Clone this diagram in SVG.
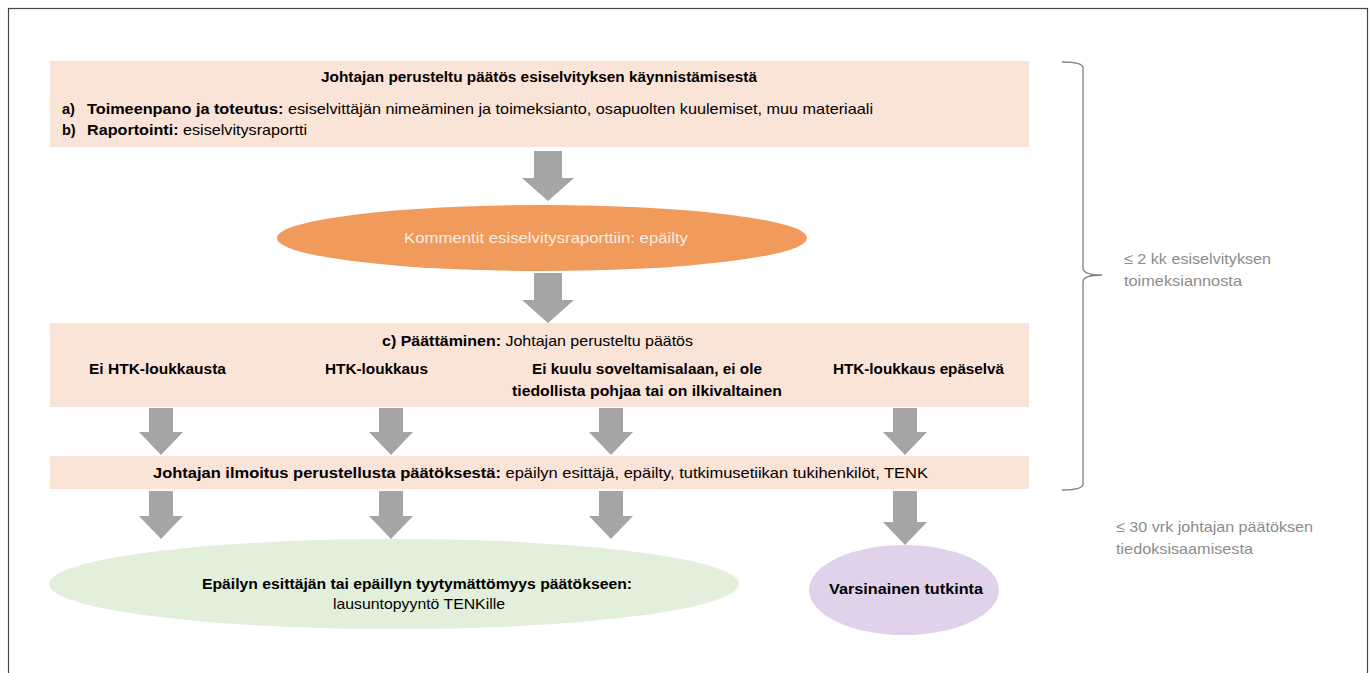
<svg xmlns="http://www.w3.org/2000/svg" width="1371" height="673" viewBox="0 0 1371 673">
<defs>
<style>
text{font-family:"Liberation Sans",Arial,sans-serif;fill:#000;font-size:14.5px}
.b{font-weight:bold}
.box{fill:#FAE3D7}
.arr{fill:#A5A5A5}
.note{fill:#8C8C8C;font-size:15px}
</style>
</defs>
<rect x="8.5" y="8.5" width="1359" height="700" fill="#fff" stroke="#444" stroke-width="1.2"/>

<g id="connectors">
<polygon class="arr" points="534,151 562,151 562,178 574,178 548,201 522,178 534,178"/>
<polygon class="arr" points="534,273 562,273 562,300 574,300 548,323 522,300 534,300"/>
<polygon class="arr" points="149,408 173,408 173,432 183,432 161,455 139,432 149,432"/>
<polygon class="arr" points="379,408 403,408 403,432 413,432 391,455 369,432 379,432"/>
<polygon class="arr" points="599,408 623,408 623,432 633,432 611,455 589,432 599,432"/>
<polygon class="arr" points="893,408 917,408 917,432 927,432 905,455 883,432 893,432"/>
<polygon class="arr" points="149,491 173,491 173,516 183,516 161,539 139,516 149,516"/>
<polygon class="arr" points="379,491 403,491 403,516 413,516 391,539 369,516 379,516"/>
<polygon class="arr" points="599,491 623,491 623,516 633,516 611,539 589,516 599,516"/>
<polygon class="arr" points="893,491 917,491 917,522 927,522 905,545 883,522 893,522"/>
</g>

<g id="box1">
<rect class="box" x="50" y="61" width="979" height="86"/>
<text class="b" x="321" y="82" textLength="436" lengthAdjust="spacingAndGlyphs">Johtajan perusteltu päätös esiselvityksen käynnistämisestä</text>
<text class="b" x="62" y="114">a)</text>
<text x="87" y="114" textLength="786" lengthAdjust="spacingAndGlyphs"><tspan class="b">Toimeenpano ja toteutus:</tspan> esiselvittäjän nimeäminen ja toimeksianto, osapuolten kuulemiset, muu  materiaali</text>
<text class="b" x="62" y="135">b)</text>
<text x="87" y="135" textLength="220" lengthAdjust="spacingAndGlyphs"><tspan class="b">Raportointi:</tspan> esiselvitysraportti</text>
</g>

<g id="comments">
<ellipse cx="542" cy="238" rx="265" ry="33" fill="#F09A5C"/>
<text x="404" y="243" textLength="284" lengthAdjust="spacingAndGlyphs" style="fill:#FDEEE2">Kommentit  esiselvitysraporttiin: epäilty</text>
</g>

<g id="box2">
<rect class="box" x="50" y="323" width="979" height="84"/>
<text x="382" y="346" textLength="311" lengthAdjust="spacingAndGlyphs"><tspan class="b">c) Päättäminen:</tspan> Johtajan perusteltu päätös</text>
<text class="b" x="89" y="374" textLength="137" lengthAdjust="spacingAndGlyphs">Ei HTK-loukkausta</text>
<text class="b" x="325" y="374" textLength="103" lengthAdjust="spacingAndGlyphs">HTK-loukkaus</text>
<text class="b" x="532" y="374" textLength="230" lengthAdjust="spacingAndGlyphs">Ei kuulu soveltamisalaan, ei ole</text>
<text class="b" x="512" y="396" textLength="270" lengthAdjust="spacingAndGlyphs">tiedollista pohjaa tai on ilkivaltainen</text>
<text class="b" x="833" y="374" textLength="171" lengthAdjust="spacingAndGlyphs">HTK-loukkaus epäselvä</text>
</g>

<g id="box3">
<rect class="box" x="50" y="456" width="979" height="33"/>
<text x="153" y="478" textLength="775" lengthAdjust="spacingAndGlyphs"><tspan class="b">Johtajan ilmoitus perustellusta päätöksestä:</tspan> epäilyn esittäjä, epäilty, tutkimusetiikan tukihenkilöt,  TENK</text>
</g>

<g id="appeal">
<ellipse cx="394" cy="584" rx="345" ry="45" fill="#E2EFDA"/>
<text class="b" x="202" y="589" textLength="430" lengthAdjust="spacingAndGlyphs">Epäilyn esittäjän tai epäillyn tyytymättömyys päätökseen:</text>
<text x="333" y="609" textLength="172" lengthAdjust="spacingAndGlyphs">lausuntopyyntö TENKille</text>
</g>

<g id="investigation">
<ellipse cx="904" cy="590" rx="95" ry="45" fill="#DFD2EA"/>
<text class="b" x="829" y="594" textLength="154" lengthAdjust="spacingAndGlyphs">Varsinainen tutkinta</text>
</g>

<g id="brace">
<path d="M1062,62 Q1083,62 1083,68 L1083,268 Q1083,275 1102,275 Q1083,275 1083,282 L1083,484 Q1083,490 1062,490" fill="none" stroke="#7F7F7F" stroke-width="1.3"/>
<text class="note" x="1124" y="264" textLength="147" lengthAdjust="spacingAndGlyphs">≤ 2 kk esiselvityksen</text>
<text class="note" x="1124" y="286" textLength="118" lengthAdjust="spacingAndGlyphs">toimeksiannosta</text>
</g>

<g id="note2">
<text class="note" x="1116" y="532" textLength="197" lengthAdjust="spacingAndGlyphs">≤ 30 vrk johtajan päätöksen</text>
<text class="note" x="1116" y="554" textLength="137" lengthAdjust="spacingAndGlyphs">tiedoksisaamisesta</text>
</g>
</svg>
